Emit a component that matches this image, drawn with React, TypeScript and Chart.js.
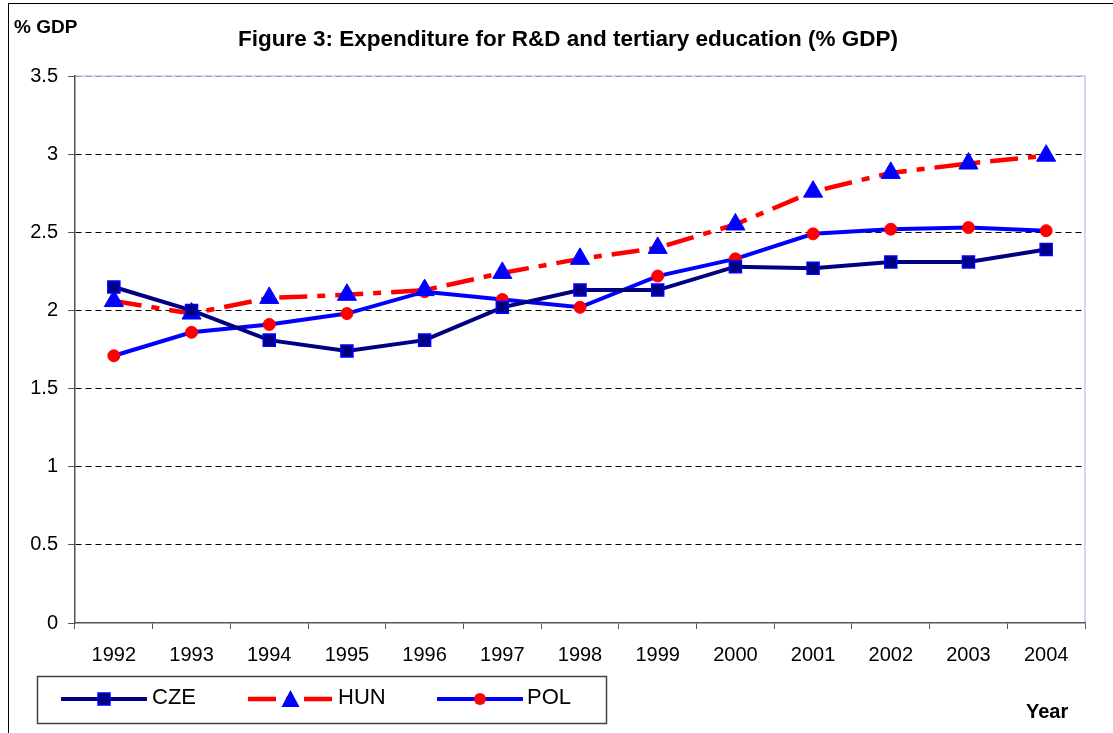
import React, { useEffect, useRef } from "react";
import { Chart, registerables } from "chart.js";

Chart.register(...registerables);

const years = ["1992", "1993", "1994", "1995", "1996", "1997", "1998", "1999", "2000", "2001", "2002", "2003", "2004"];
const cze = [2.15, 2.0, 1.81, 1.74, 1.81, 2.02, 2.13, 2.13, 2.28, 2.27, 2.31, 2.31, 2.39];
const hun = [2.06, 1.98, 2.08, 2.1, 2.13, 2.24, 2.33, 2.4, 2.55, 2.76, 2.88, 2.94, 2.99];
const pol = [1.71, 1.86, 1.91, 1.98, 2.12, 2.07, 2.02, 2.22, 2.33, 2.49, 2.52, 2.53, 2.51];
const seriesNames = ["CZE", "HUN", "POL"];
const titleText = "Figure 3: Expenditure for R&D and tertiary education (% GDP)";
const yAxisTitle = "% GDP";
const xAxisTitle = "Year";

const FONT = "'Liberation Sans', Arial, sans-serif";
const HUN_DASH = [28, 10, 8, 10];

function drawMarker(ctx: CanvasRenderingContext2D, kind: string, x: number, y: number) {
  ctx.save();
  if (kind === "rect") {
    ctx.fillStyle = "#000080";
    ctx.strokeStyle = "#0000ff";
    ctx.lineWidth = 1.5;
    ctx.fillRect(x - 6, y - 6, 12, 12);
    ctx.strokeRect(x - 6, y - 6, 12, 12);
  } else if (kind === "triangle") {
    ctx.fillStyle = "#0000ff";
    ctx.beginPath();
    ctx.moveTo(x, y - 9);
    ctx.lineTo(x + 9, y + 8);
    ctx.lineTo(x - 9, y + 8);
    ctx.closePath();
    ctx.fill();
  } else {
    ctx.fillStyle = "#ff0000";
    ctx.beginPath();
    ctx.arc(x, y, 6, 0, Math.PI * 2);
    ctx.fill();
  }
  ctx.restore();
}

const decorPlugin = {
  id: "decor",
  beforeDraw(chart: any) {
    const ctx = chart.ctx;
    const a = chart.chartArea;
    ctx.save();
    ctx.strokeStyle = "#000";
    ctx.lineWidth = 1;
    ctx.strokeRect(8.5, 3.5, 1200, 800);
    ctx.strokeStyle = "#c8c8f0";
    ctx.lineWidth = 1.5;
    ctx.beginPath();
    ctx.moveTo(a.left, a.top);
    ctx.lineTo(a.right, a.top);
    ctx.lineTo(a.right, a.bottom);
    ctx.stroke();
    ctx.restore();
  },
  afterDraw(chart: any) {
    const ctx = chart.ctx;
    ctx.save();
    ctx.fillStyle = "#000";
    ctx.textBaseline = "middle";
    ctx.font = `bold 22.5px ${FONT}`;
    ctx.textAlign = "center";
    ctx.fillText(titleText, 568, 40);
    ctx.font = `bold 19px ${FONT}`;
    ctx.textAlign = "left";
    ctx.fillText(yAxisTitle, 14, 28);
    ctx.font = `bold 20px ${FONT}`;
    ctx.fillText(xAxisTitle, 1026, 712);

    ctx.strokeStyle = "#404040";
    ctx.lineWidth = 1.5;
    ctx.strokeRect(37.5, 676.5, 569, 47);
    const ly = 699;
    const items = [
      { x0: 61, x1: 147, tx: 152, kind: "rect" },
      { x0: 248, x1: 333, tx: 338, kind: "triangle" },
      { x0: 437, x1: 523, tx: 527, kind: "circle" },
    ];
    items.forEach((it, i) => {
      const ds = chart.data.datasets[i];
      ctx.save();
      ctx.strokeStyle = ds.borderColor;
      ctx.lineWidth = ds.borderWidth;
      ctx.setLineDash(ds.borderDash || []);
      ctx.beginPath();
      ctx.moveTo(it.x0, ly);
      ctx.lineTo(it.x1, ly);
      ctx.stroke();
      ctx.restore();
      drawMarker(ctx, it.kind, (it.x0 + it.x1) / 2, ly);
      ctx.fillStyle = "#000";
      ctx.font = `22px ${FONT}`;
      ctx.textAlign = "left";
      ctx.fillText(ds.label, it.tx, ly - 1);
    });
    ctx.restore();
  },
};

export default function App() {
  const ref = useRef<HTMLCanvasElement>(null);
  useEffect(() => {
    if (!ref.current) return;
    const chart = new Chart(ref.current, {
      type: "line",
      data: {
        labels: years,
        datasets: [
          {
            label: seriesNames[0],
            data: cze,
            borderColor: "#000080",
            borderWidth: 4,
            pointStyle: "rect",
            pointRadius: 8.5,
            pointBackgroundColor: "#000080",
            pointBorderColor: "#0000ff",
            pointBorderWidth: 1.5,
            tension: 0,
          },
          {
            label: seriesNames[1],
            data: hun,
            borderColor: "#ff0000",
            borderWidth: 4.5,
            borderDash: HUN_DASH,
            pointStyle: "triangle",
            pointRadius: 11,
            pointBackgroundColor: "#0000ff",
            pointBorderColor: "#0000ff",
            pointBorderWidth: 1,
            tension: 0,
          },
          {
            label: seriesNames[2],
            data: pol,
            borderColor: "#0000ff",
            borderWidth: 4,
            pointStyle: "circle",
            pointRadius: 6,
            pointBackgroundColor: "#ff0000",
            pointBorderColor: "#ff0000",
            pointBorderWidth: 1,
            tension: 0,
          },
        ],
      },
      options: {
        responsive: false,
        animation: false,
        layout: { padding: { left: 0, top: 76, right: 28, bottom: 0 } },
        plugins: { legend: { display: false }, title: { display: false }, tooltip: { enabled: false } },
        scales: {
          x: {
            offset: true,
            afterFit: (s: any) => { s.height = 110; },
            grid: {
              offset: true,
              drawOnChartArea: false,
              drawTicks: true,
              tickLength: 6,
              tickColor: "#555",
              tickWidth: 1,
            },
            border: { display: true, color: "#555", width: 1.5 },
            ticks: { color: "#000", font: { family: FONT, size: 20 }, padding: 14, maxRotation: 0, autoSkip: false },
          },
          y: {
            min: 0,
            max: 3.5,
            afterFit: (s: any) => { s.width = 75; },
            ticks: {
              stepSize: 0.5,
              color: "#000",
              font: { family: FONT, size: 20 },
              padding: 10,
              callback: (v: any) => String(Number(v)),
            },
            grid: {
              color: (c: any) => (c.tick && c.tick.value === 3.5 ? "#9a9ab0" : c.tick && c.tick.value === 0 ? "rgba(0,0,0,0)" : "#000"),
              lineWidth: 1,
              drawTicks: true,
              tickLength: 7,
              tickColor: "#555",
              tickBorderDash: [],
            },
            border: { display: true, color: "#555", width: 1.5, dash: [6, 4] },
          },
        },
      },
      plugins: [decorPlugin],
    });
    return () => chart.destroy();
  }, []);
  return (
    <div style={{ position: "fixed", left: 0, top: 0, width: 1113, height: 733, background: "#fff" }}>
      <canvas ref={ref} width={1113} height={733} style={{ width: 1113, height: 733, display: "block" }} />
    </div>
  );
}
